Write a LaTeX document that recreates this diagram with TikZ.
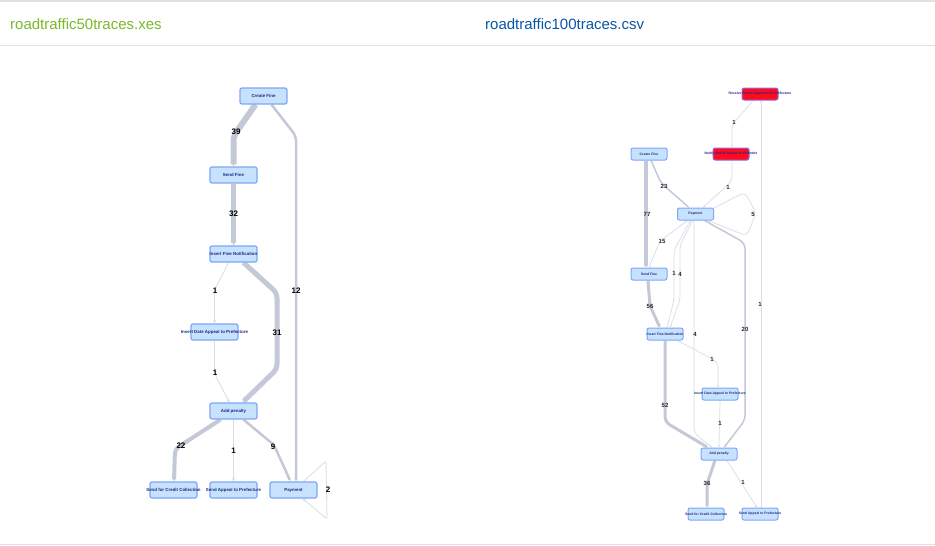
\documentclass[tikz,border=0pt]{standalone}
\usepackage{fontspec}
\setmainfont{Liberation Sans}
\usetikzlibrary{arrows.meta,calc,backgrounds}
\definecolor{nodefill}{HTML}{C6E2FF}
\definecolor{nodeborder}{HTML}{7EA6F6}
\definecolor{nodetext}{HTML}{1C2A80}
\definecolor{redfill}{HTML}{FF0A1E}
\definecolor{redborder}{HTML}{8C6CF0}
\definecolor{edgethick}{HTML}{C4C9D8}
\definecolor{edgethin}{HTML}{D9DCE8}
\definecolor{titlegreen}{HTML}{7AB929}
\definecolor{titleblue}{HTML}{0A56A6}
\definecolor{rulec}{HTML}{DEE2E6}
\newcommand\ntx[1]{\makebox[0pt]{#1}}
\tikzset{
  lbox/.style={draw=nodeborder, fill=nodefill, line width=1.2pt, rounded corners=2pt,
    minimum width=47pt, minimum height=16pt, inner sep=0pt,
    font=\fontsize{4.4}{5}\selectfont\bfseries, text=nodetext},
  rbox/.style={lbox, minimum width=36pt, minimum height=12pt, line width=1pt,
    font=\fontsize{3.4}{4}\selectfont\bfseries},
  redbox/.style={rbox, fill=redfill, draw=redborder},
  edg/.style={draw=edgethick, rounded corners=5pt, -{Stealth[length=3.5pt,width=3pt]}},
  tedge/.style={edg, draw=edgethin, line width=0.8pt},
  redg/.style={edg, -{Stealth[length=2.5pt,width=2pt]}},
  rtedge/.style={redg, draw=edgethin, line width=0.7pt},
  lab/.style={font=\fontsize{8}{9}\selectfont\bfseries, text=black, inner sep=0pt},
  rlab/.style={font=\fontsize{6}{7}\selectfont\bfseries, text=black!85, inner sep=0pt},
}
\begin{document}
\begin{tikzpicture}[x=1pt,y=-1pt]
\useasboundingbox (0,0) rectangle (935,546);
% header
\node[anchor=west, inner sep=0pt, text=titlegreen, font=\fontsize{15}{17}\selectfont] (t1) at (10,24) {roadtraffic50traces.xes};
\node[anchor=west, inner sep=0pt, text=titleblue, font=\fontsize{15}{17}\selectfont] (t2) at (485,24) {roadtraffic100traces.csv};

% ---------- left graph nodes
\node[lbox] (cf) at (263.5,96) {\ntx{Create Fine}};
\node[lbox] (sf) at (233.5,175) {\ntx{Send Fine}};
\node[lbox] (ifn) at (233.5,254) {\ntx{Insert Fine Notification}};
\node[lbox] (ida) at (214.5,332) {\ntx{Insert Date Appeal to Prefecture}};
\node[lbox] (ap) at (233.5,411) {\ntx{Add penalty}};
\node[lbox] (scc) at (173.5,490) {\ntx{Send for Credit Collection}};
\node[lbox] (sap) at (233.5,490) {\ntx{Send Appeal to Prefecture}};
\node[lbox] (pay) at (293.5,490) {\ntx{Payment}};

% ---------- right graph nodes
\node[redbox] (rr) at (760,94) {\ntx{Receive Result Appeal from Prefecture}};
\node[redbox] (nr) at (731,154) {\ntx{Notify Result Appeal to Offender}};
\node[rbox] (rcf) at (649,154) {\ntx{Create Fine}};
\node[rbox] (rpay) at (695.5,214) {\ntx{Payment}};
\node[rbox] (rsf) at (649,274) {\ntx{Send Fine}};
\node[rbox] (rifn) at (665,334) {\ntx{Insert Fine Notification}};
\node[rbox] (rida) at (720,394) {\ntx{Insert Date Appeal to Prefecture}};
\node[rbox] (rap) at (719,454) {\ntx{Add penalty}};
\node[rbox] (rscc) at (706,514) {\ntx{Send for Credit Collection}};
\node[rbox] (rsap) at (760,514) {\ntx{Send Appeal to Prefecture}};

\begin{scope}[on background layer]
\fill[white] (0,0) rectangle (935,546);
\fill[rulec] (0,0) rectangle (935,2);
\draw[rulec, line width=1pt] (0,45) -- (935,45);
\draw[rulec, line width=1pt] (0,544.5) -- (935,544.5);
% left edges
\draw[edg, line width=6pt] ($(cf.south)+(-8,0)$) -- (233.5,136) -- (sf.north);
\draw[edg, line width=2.5pt] ($(cf.south)+(8,0)$) -- (296,136) -- ($(pay.north)+(2.5,0)$);
\draw[edg, line width=5pt] (sf.south) -- (ifn.north);
\draw[tedge] ($(ifn.south)+(-5,0)$) -- (214.5,290) -- (ida.north);
\draw[edg, line width=5pt] ($(ifn.south)+(10,0)$) -- (277,293) -- (277,369) -- ($(ap.north)+(9,0)$);
\draw[tedge] (ida.south) -- (214.5,374) -- ($(ap.north)+(-4,0)$);
\draw[edg, line width=4pt] ($(ap.south)+(-13,0)$) -- (175,449) -- ($(scc.north)+(0.5,0)$);
\draw[tedge] (ap.south) -- (sap.north);
\draw[edg, line width=2.5pt] ($(ap.south)+(10,0)$) -- (274,445) -- ($(pay.north)+(-3,0)$);
\draw[tedge, rounded corners=2pt] ($(pay.north east)+(-14,0)$) -- (326,461) -- (327,519) -- ($(pay.south east)+(-15,0)$);
% right edges
\draw[rtedge] ($(rr.south)+(-7,0)$) -- (732,125) -- ($(nr.north)+(1,0)$);
\draw[rtedge] ($(rsap.north)+(1,0)$) -- ($(rr.south)+(1,0)$);
\draw[rtedge] ($(nr.south)+(1,0)$) -- (732,181) -- ($(rpay.north)+(7.5,0)$);
\draw[redg, line width=1.5pt] ($(rcf.south)+(2,0)$) -- (661,183) -- ($(rpay.north)+(-6.5,0)$);
\draw[redg, line width=4pt] ($(rcf.south)+(-3,0)$) -- ($(rsf.north)+(-3,0)$);
\draw[rtedge, rounded corners=6pt] ($(rpay.north east)+(-1,1)$) -- (745,192) -- (756,213) -- (747,236) -- ($(rpay.south east)+(-6,0)$);
\draw[rtedge] (rsf.north) -- (660,241) -- ($(rpay.south)+(-8,0)$);
\draw[rtedge] ($(rifn.north)+(2,0)$) -- (674,300) -- (674,250) -- ($(rpay.south)+(-5,0)$);
\draw[rtedge] ($(rpay.south)+(-3,0)$) -- (680,245) -- (680,300) -- ($(rifn.north)+(5,0)$);
\draw[rtedge] ($(rpay.south)+(-1.5,0)$) -- (694,433) -- ($(rap.north)+(-7,0)$);
\draw[redg, line width=1.5pt] ($(rpay.south)+(9,0)$) -- (745,243) -- (745,420) -- ($(rap.north)+(5,0)$);
\draw[redg, line width=3pt] ($(rsf.south)+(-1,0)$) -- (650,306) -- ($(rifn.north)+(-5,0)$);
\draw[redg, line width=3pt] (rifn.south) -- (665,422) -- ($(rap.north)+(-11,0)$);
\draw[rtedge] ($(rifn.south east)+(-6,0)$) -- (718,362) -- ($(rida.north)+(-2,0)$);
\draw[rtedge] (rida.south) -- (rap.north);
\draw[redg, line width=3pt] ($(rap.south)+(-4,0)$) -- (707,484) -- ($(rscc.north)+(1,0)$);
\draw[rtedge] ($(rap.south)+(8,0)$) -- ($(rsap.north)+(-3,0)$);
\end{scope}

% left labels
\node[lab] (l39) at (236,132) {39};
\node[lab] (l12) at (296,291) {12};
\node[lab] (l32) at (233.5,214) {32};
\node[lab] (l1a) at (215,291) {1};
\node[lab] (l31) at (277,333) {31};
\node[lab] (l1b) at (215,373) {1};
\node[lab] (l22) at (181,446) {22};
\node[lab] (l1c) at (233.5,451) {1};
\node[lab] (l9) at (273,447) {9};
\node[lab] (l2) at (328,490) {2};

% right labels
\node[rlab] (r1a) at (734,122) {1};
\node[rlab] (r1b) at (760,304) {1};
\node[rlab] (r1c) at (728,187) {1};
\node[rlab] (r23) at (664,186) {23};
\node[rlab] (r77) at (647,214) {77};
\node[rlab] (r5) at (753,214) {5};
\node[rlab] (r15) at (662,241) {15};
\node[rlab] (r1d) at (674,273) {1};
\node[rlab] (r4a) at (680,274) {4};
\node[rlab] (r4b) at (695,334) {4};
\node[rlab] (r20) at (745,329) {20};
\node[rlab] (r56) at (650,306) {56};
\node[rlab] (r52) at (665,405) {52};
\node[rlab] (r1e) at (712,359) {1};
\node[rlab] (r1f) at (720,423) {1};
\node[rlab] (r36) at (707,483) {36};
\node[rlab] (r1g) at (743,482) {1};
\end{tikzpicture}
\end{document}
